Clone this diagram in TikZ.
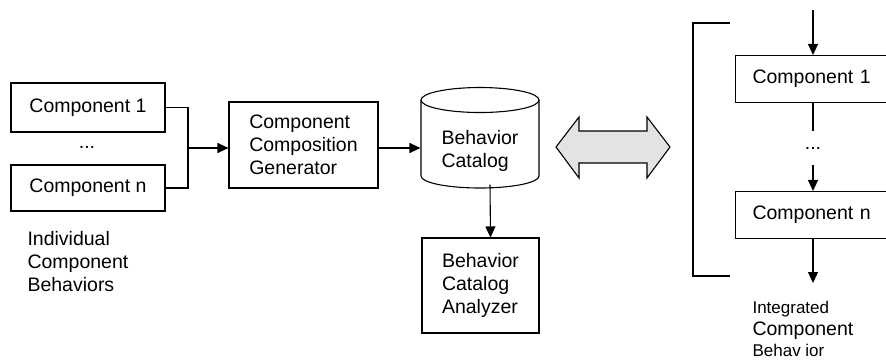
\documentclass[tikz,border=0pt]{standalone}
\usepackage{fontspec}
\setmainfont{Liberation Sans}
\usetikzlibrary{arrows.meta,positioning}

\begin{document}
\begin{tikzpicture}[x=1pt, y=-1pt, line width=1.1pt,
  font=\fontsize{19.5}{23}\selectfont,
  >={Triangle[length=11pt,width=10pt]},
  box/.style={draw, inner sep=0pt, align=left},
  sidebox/.style={draw, anchor=west, text width=136pt, inner xsep=17pt, inner ysep=0pt, minimum height=47pt, align=left}]
\useasboundingbox (0,0) rectangle (886,360);
%%%%% Individual components %%%%%
\node[box, minimum width=154, minimum height=49] (comp1) at (88,107.5) {Component 1};
\node (ldots) at (87,147) {...};
\node[box, minimum width=154, minimum height=46] (compn) at (88,188) {Component n};
\node[anchor=north west, align=left, inner sep=0pt] (indlabel) at (27,231) {Individual\\Component\\Behaviors};
\coordinate (join) at (188,148);
\draw (comp1.east) -| (join) |- (compn.east);
%%%%% Generator and catalog %%%%%
\node[box, minimum width=149, minimum height=86] (ccg) at (303.5,145) {Component\\Composition\\Generator};
\draw[->] (join) -- (join -| ccg.west);
\node[inner sep=0pt, align=left, minimum width=118, minimum height=74] (cat) at (480,151) {Behavior\\Catalog};
\draw (421,100) -- (421,176) arc[start angle=180, end angle=360, x radius=59pt, y radius=12pt] -- (539,100);
\draw (480,100) ellipse [x radius=59pt, y radius=12.5pt];
\draw[->] (ccg.east |- join) -- (join -| cat.west);
\node[box, minimum width=117, minimum height=95] (ana) at (480.5,285.5) {Behavior\\Catalog\\Analyzer};
\draw[->] ([xshift=10pt,yshift=4pt]cat.south) -- ([xshift=10pt]ana.north);
%%%%% Double arrow %%%%%
\draw[fill=gray!22] (556,147) -- (579,117) -- (579,131) -- (647,131) -- (647,117) -- (670,147)
  -- (647,178) -- (647,163) -- (579,163) -- (579,178) -- cycle;
%%%%% Integrated components %%%%%
\coordinate (feed) at (813,10);
\node[sidebox] (rcomp1) at (735,79) {Component 1};
\node[inner sep=0pt, minimum height=33] (rdots) at (813,148) {...};
\node[sidebox] (rcompn) at (735,215) {Component n};
\coordinate (out) at (813,283);
\draw[->] (feed) -- (feed |- rcomp1.north);
\draw (feed |- rcomp1.south) -- (rdots.north);
\draw[->] (rdots.south) -- (feed |- rcompn.north);
\draw[->] (feed |- rcompn.south) -- (out);
\draw (730,23) -- (693,23) -- (693,276) -- (730,276);
\node[anchor=north west, align=left, inner sep=0pt, font=\fontsize{19.5}{21.5}\selectfont] (intlabel) at (752,301)
  {{\fontsize{17}{21.5}\selectfont Integrated}\\Component\\{\fontsize{17}{21.5}\selectfont Behav ior}};
\end{tikzpicture}
\end{document}
